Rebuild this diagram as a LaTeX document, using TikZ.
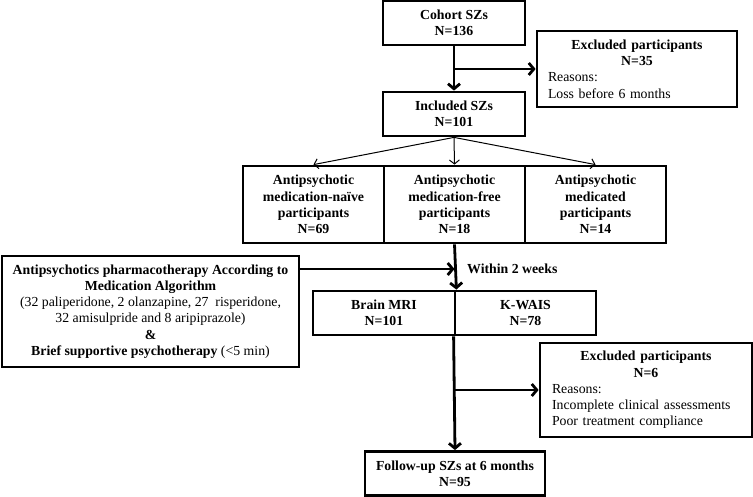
\documentclass[tikz,border=0pt]{standalone}
\usepackage{fontspec}
\setmainfont{Liberation Serif}
\usetikzlibrary{arrows.meta}
\begin{document}
\begin{tikzpicture}[x=1pt,y=-1pt,
 box/.style={draw, line width=2.8pt, inner sep=0pt, align=center, font=\fontsize{13.8}{16.3}\selectfont},
 bbox/.style={box, font=\bfseries\fontsize{13.8}{16.3}\selectfont},
 lbl/.style={inner sep=0pt, font=\bfseries\fontsize{13.8}{16.3}\selectfont},
 thickarr/.style={line width=2.8pt, -{Straight Barb[length=5pt,width=12pt]}},
 thinarr/.style={line width=1pt, -{Straight Barb[length=4pt,width=10pt]}}]
\useasboundingbox (0,0) rectangle (753,497);

\node[bbox, minimum width=142pt, minimum height=44pt] (cohort) at (454,23) {Cohort SZs\\N=136};
\node[box, minimum width=200pt, minimum height=76pt, text width=178pt, align=left] (exc1) at (637,69)
 {\makebox[178pt]{\bfseries Excluded participants}\\\makebox[178pt]{\bfseries N=35}\\Reasons:\\Loss before 6 months};
\node[bbox, minimum width=142pt, minimum height=44pt] (incl) at (454,114) {Included SZs\\N=101};

\node[bbox, minimum width=141pt, minimum height=77pt] (naive) at (313.5,204.5) {Antipsychotic\\medication-naïve\\participants\\N=69};
\node[bbox, minimum width=141pt, minimum height=77pt] (free) at (454.5,204.5) {Antipsychotic\\medication-free\\participants\\N=18};
\node[bbox, minimum width=141pt, minimum height=77pt] (medi) at (595.5,204.5) {Antipsychotic\\medicated\\participants\\N=14};

\node[box, minimum width=297pt, minimum height=111pt] (pharm) at (150.5,311.5)
 {{\bfseries Antipsychotics pharmacotherapy According to}\\{\bfseries Medication Algorithm}\\(32 paliperidone, 2 olanzapine, 27~ risperidone,\\32 amisulpride and 8 aripiprazole)\\{\bfseries \&}\\{\bfseries Brief supportive psychotherapy} (<5 min)};

\node[bbox, minimum width=142pt, minimum height=44pt] (mri) at (384,313) {Brain MRI\\N=101};
\node[bbox, minimum width=141pt, minimum height=44pt] (kwais) at (525.5,313) {K-WAIS\\N=78};
\node[lbl, anchor=west] (within) at (467,269) {Within 2 weeks};

\node[box, minimum width=212pt, minimum height=94pt, text width=188pt, align=left] (exc2) at (646,390)
 {\makebox[188pt]{\bfseries Excluded participants}\\\makebox[188pt]{\bfseries N=6}\\Reasons:\\Incomplete clinical assessments\\Poor treatment compliance};

\node[bbox, minimum width=180pt, minimum height=44pt] (follow) at (455,473.5) {Follow-up SZs at 6 months\\N=95};

\draw[thickarr] (cohort.south) -- (incl.north);
\draw[thickarr] (cohort.south |- exc1.west) -- (exc1.west);
\draw[thinarr] (incl.south) -- (naive.north);
\draw[thinarr] (incl.south) -- (free.north);
\draw[thinarr] (incl.south) -- (medi.north);
\coordinate (j2) at (454.5,269);
\draw[thickarr] (free.south) -- (mri.north east);
\draw[thickarr] (pharm.east |- j2) -- (j2);
\draw[thickarr] (kwais.south west) -- (follow.north);
\draw[thickarr] (kwais.south west |- exc2.west) -- (exc2.west);
\end{tikzpicture}
\end{document}
